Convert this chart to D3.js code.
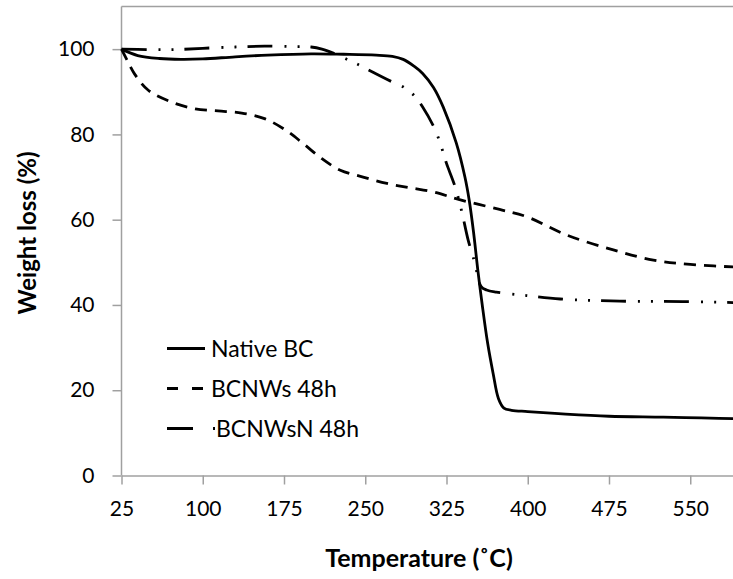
<!DOCTYPE html>
<html>
<head>
<meta charset="utf-8">
<script src="https://cdn.jsdelivr.net/npm/d3@7"></script>
<style>
  body { margin: 0; background: #fff; }
  svg { display: block; font-family: Lato, "Open Sans", sans-serif; }
</style>
</head>
<body>
<svg id="chart" width="733" height="579"></svg>
<script>
// data
var nativeT = [25, 40, 60, 80, 100, 130, 160, 200, 230, 260, 275, 285, 295, 303, 313, 322, 334, 342, 346, 350, 354, 358, 363, 368, 373, 378, 385, 400, 435, 475, 525, 560, 600];
var nativeW = [100, 98.5, 97.8, 97.6, 97.7, 98.2, 98.6, 98.9, 98.8, 98.6, 98.3, 97.6, 96, 94.3, 91, 86.4, 78, 70, 64.5, 57, 48, 40, 31, 24, 18, 15.8, 15.3, 15, 14.4, 13.9, 13.7, 13.5, 13.3];

var bcnwT = [25, 30, 37, 50, 71, 93, 114, 136, 157, 176, 193, 210, 227, 248, 270, 291, 313, 337, 374, 399, 436, 479, 516, 550, 600];
var bcnwW = [100, 97.5, 94.2, 90.3, 87.6, 86, 85.5, 85, 83.7, 81.1, 77.8, 74.3, 71.6, 70, 68.5, 67.5, 66.5, 64.7, 62.4, 60.7, 56.4, 52.9, 50.5, 49.5, 48.8];

var bcnwnT = [25, 50, 75, 100, 130, 157, 185, 200, 210, 222, 234, 245, 254, 275, 286, 296, 303, 314, 318, 322, 325, 333, 339, 345, 351, 357, 362, 371, 399, 430, 485, 543, 600];
var bcnwnW = [100, 99.9, 99.9, 100.2, 100.5, 100.7, 100.6, 100.5, 100, 98.9, 97.5, 96.2, 95, 92.3, 91, 88.9, 86.4, 81.4, 78.8, 75.7, 73.2, 67.7, 62, 55.2, 50, 44.3, 43.5, 43, 42.2, 41.4, 40.9, 40.8, 40.5];

var seriesNames = ["Native BC", "BCNWs 48h", "BCNWsN 48h"];
var xTicks = [25, 100, 175, 250, 325, 400, 475, 550];
var yTicks = [0, 20, 40, 60, 80, 100];

var svg = d3.select("#chart");

// the plot runs on past the right edge of the picture
var x = d3.scaleLinear().domain([25, 625]).range([121.5, 771.5]);
var y = d3.scaleLinear().domain([0, 110]).range([475.5, 6.5]);

var axisColor = "#a0a0a0";

// top border of plot area
svg.append("line")
  .attr("x1", x(25)).attr("x2", 733)
  .attr("y1", y(110)).attr("y2", y(110))
  .attr("stroke", axisColor).attr("stroke-width", 1.5);

var yAxis = svg.append("g")
  .attr("transform", "translate(" + x(25) + ",0)")
  .call(d3.axisLeft(y).tickValues(yTicks).tickSize(9).tickSizeOuter(0).tickPadding(18));

var xAxis = svg.append("g")
  .attr("transform", "translate(0," + y(0) + ")")
  .call(d3.axisBottom(x).tickValues(xTicks).tickSize(9).tickSizeOuter(0).tickPadding(17));

[xAxis, yAxis].forEach(function (g) {
  g.selectAll("path, line").attr("stroke", axisColor).attr("stroke-width", 1.5);
  g.selectAll("text").attr("fill", "#000").style("font-size", "21px").style("font-family", "Lato, sans-serif");
});
// y axis reaches the top border
yAxis.select("path").attr("d", "M0," + y(110) + "V" + y(0));

var line = d3.line()
  .x(function (d) { return x(d[0]); })
  .y(function (d) { return y(d[1]); })
  .curve(d3.curveCatmullRom.alpha(0.5));

var dashes = ["none", "12,8", "25,12,2,11,2,11"];
var legendDashes = ["none", "11,14", "26,20,2,100"];
var allSeries = [
  d3.zip(nativeT, nativeW),
  d3.zip(bcnwT, bcnwW),
  d3.zip(bcnwnT, bcnwnW)
];

allSeries.forEach(function (pts, i) {
  svg.append("path")
    .datum(pts)
    .attr("d", line)
    .attr("fill", "none")
    .attr("stroke", "#000")
    .attr("stroke-width", 2.8)
    .attr("stroke-dasharray", dashes[i]);
});

// legend
var legend = svg.append("g");
seriesNames.forEach(function (name, i) {
  var ly = 348.5 + i * 40;
  legend.append("line")
    .attr("x1", 167).attr("x2", i == 2 ? 215 : 205)
    .attr("y1", ly).attr("y2", ly)
    .attr("stroke", "#000")
    .attr("stroke-width", 2.8)
    .attr("stroke-dasharray", legendDashes[i]);
  legend.append("text")
    .attr("x", i == 2 ? 216 : 211)
    .attr("y", ly)
    .attr("dy", "0.36em")
    .style("font-size", "23px")
    .text(name);
});

// axis titles
svg.append("text")
  .attr("x", 419).attr("y", 567)
  .attr("text-anchor", "middle")
  .style("font-size", "25px").style("font-weight", "bold")
  .text("Temperature (˚C)");

svg.append("text")
  .attr("transform", "translate(36,233) rotate(-90)")
  .attr("text-anchor", "middle")
  .style("font-size", "24px").style("font-weight", "bold")
  .text("Weight loss (%)");
</script>
</body>
</html>
